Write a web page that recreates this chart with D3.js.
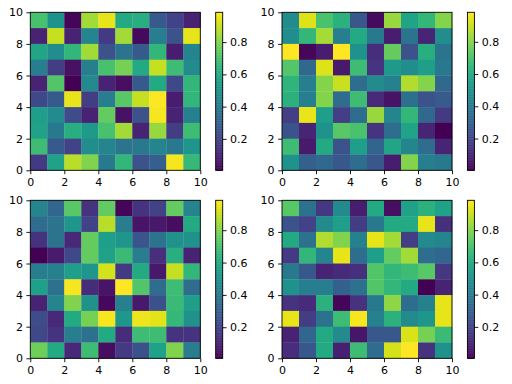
<!DOCTYPE html>
<meta charset="utf-8">
<script src="https://d3js.org/d3.v7.min.js"></script>
<style>
  body { margin: 0; background: #fff; }
  text { font-family: "DejaVu Sans", sans-serif; font-size: 11px; fill: #000; }
</style>
<div id="chart"></div>
<script>
  // 10x10 grids, rows listed from the top (y 9..10) down to the bottom (y 0..1)
  var gridA = [
    [0.70, 0.50, 0.02, 0.85, 0.95, 0.60, 0.62, 0.28, 0.20, 0.10],
    [0.10, 0.90, 0.10, 0.45, 0.17, 0.85, 0.03, 0.42, 0.25, 0.95],
    [0.58, 0.48, 0.65, 0.85, 0.25, 0.38, 0.28, 0.65, 0.08, 0.45],
    [0.42, 0.18, 0.05, 0.42, 0.70, 0.78, 0.60, 0.90, 0.68, 0.47],
    [0.10, 0.72, 0.005, 0.47, 0.10, 0.04, 0.28, 0.60, 0.22, 0.65],
    [0.22, 0.28, 0.95, 0.18, 0.42, 0.73, 0.90, 0.985, 0.08, 0.65],
    [0.55, 0.47, 0.23, 0.10, 0.75, 0.05, 0.25, 0.97, 0.10, 0.43],
    [0.57, 0.40, 0.62, 0.53, 0.70, 0.85, 0.10, 0.83, 0.18, 0.68],
    [0.68, 0.28, 0.20, 0.48, 0.45, 0.38, 0.40, 0.45, 0.40, 0.52],
    [0.17, 0.57, 0.88, 0.80, 0.40, 0.65, 0.25, 0.30, 0.97, 0.66]
  ]
  var gridB = [
    [0.47, 0.93, 0.70, 0.63, 0.27, 0.03, 0.83, 0.57, 0.65, 0.80],
    [0.48, 0.65, 0.85, 0.42, 0.60, 0.40, 0.08, 0.38, 0.10, 0.48],
    [0.983, 0.02, 0.08, 0.98, 0.50, 0.13, 0.75, 0.25, 0.62, 0.38],
    [0.72, 0.33, 0.93, 0.07, 0.68, 0.15, 0.53, 0.48, 0.55, 0.40],
    [0.64, 0.42, 0.80, 0.90, 0.35, 0.47, 0.43, 0.87, 0.80, 0.33],
    [0.63, 0.42, 0.80, 0.35, 0.68, 0.12, 0.05, 0.36, 0.25, 0.28],
    [0.18, 0.95, 0.55, 0.18, 0.35, 0.83, 0.45, 0.65, 0.33, 0.17],
    [0.25, 0.10, 0.50, 0.73, 0.70, 0.15, 0.35, 0.57, 0.10, 0.003],
    [0.68, 0.07, 0.60, 0.25, 0.55, 0.32, 0.58, 0.45, 0.35, 0.10],
    [0.50, 0.30, 0.33, 0.27, 0.35, 0.27, 0.08, 0.80, 0.42, 0.40]
  ]
  var gridC = [
    [0.45, 0.33, 0.73, 0.15, 0.75, 0.02, 0.15, 0.20, 0.75, 0.45],
    [0.35, 0.38, 0.52, 0.20, 0.88, 0.42, 0.06, 0.07, 0.04, 0.60],
    [0.15, 0.38, 0.12, 0.75, 0.55, 0.52, 0.26, 0.38, 0.50, 0.50],
    [0.008, 0.08, 0.22, 0.75, 0.57, 0.67, 0.42, 0.14, 0.62, 0.10],
    [0.42, 0.43, 0.55, 0.52, 0.92, 0.17, 0.60, 0.07, 0.90, 0.65],
    [0.56, 0.37, 0.97, 0.13, 0.06, 0.985, 0.72, 0.35, 0.68, 0.35],
    [0.10, 0.45, 0.80, 0.50, 0.03, 0.43, 0.07, 0.25, 0.67, 0.55],
    [0.23, 0.12, 0.60, 0.78, 0.97, 0.53, 0.96, 0.94, 0.66, 0.50],
    [0.22, 0.15, 0.42, 0.37, 0.60, 0.13, 0.68, 0.68, 0.15, 0.15],
    [0.77, 0.60, 0.12, 0.68, 0.04, 0.17, 0.25, 0.57, 0.80, 0.42]
  ]
  var gridD = [
    [0.73, 0.37, 0.16, 0.47, 0.08, 0.60, 0.04, 0.57, 0.63, 0.57],
    [0.25, 0.20, 0.47, 0.55, 0.18, 0.40, 0.60, 0.60, 0.95, 0.14],
    [0.60, 0.37, 0.87, 0.80, 0.43, 0.95, 0.85, 0.18, 0.47, 0.45],
    [0.17, 0.65, 0.45, 0.95, 0.35, 0.55, 0.75, 0.85, 0.35, 0.33],
    [0.40, 0.27, 0.10, 0.12, 0.14, 0.72, 0.65, 0.68, 0.73, 0.16],
    [0.50, 0.42, 0.42, 0.30, 0.37, 0.72, 0.65, 0.60, 0.005, 0.10],
    [0.15, 0.12, 0.63, 0.02, 0.15, 0.40, 0.82, 0.35, 0.43, 0.95],
    [0.95, 0.18, 0.37, 0.68, 0.97, 0.43, 0.63, 0.47, 0.52, 0.95],
    [0.10, 0.33, 0.60, 0.47, 0.06, 0.27, 0.27, 0.93, 0.78, 0.67],
    [0.13, 0.27, 0.60, 0.09, 0.68, 0.35, 0.92, 0.985, 0.15, 0.50]
  ]

  var axisTicks = [0, 2, 4, 6, 8, 10]
  var barTicks = [0.2, 0.4, 0.6, 0.8]

  var width = 512, height = 384
  var pw = 170, ph = 158

  var svg = d3.select("#chart").append("svg")
    .attr("width", width)
    .attr("height", height)

  var panels = [
    { data: gridA, left: 30.3, top: 12.3 },
    { data: gridB, left: 282, top: 12.3 },
    { data: gridC, left: 30.3, top: 200.3 },
    { data: gridD, left: 282, top: 200.3 }
  ]

  panels.forEach(function(p) {
    var x = d3.scaleLinear().domain([0, 10]).range([0, pw])
    var y = d3.scaleLinear().domain([0, 10]).range([ph, 0])
    var flat = d3.merge(p.data)
    var ext = d3.extent(flat)
    var color = d3.scaleSequential(d3.interpolateViridis).domain(ext)

    var cells = []
    p.data.forEach(function(row, i) {
      row.forEach(function(v, j) { cells.push({ col: j, row: 9 - i, v: v }) })
    })

    var g = svg.append("g").attr("transform", "translate(" + p.left + "," + p.top + ")")

    g.selectAll("rect.cell")
      .data(cells)
      .enter()
      .append("rect")
        .attr("class", "cell")
        .attr("x", function(d) { return x(d.col) })
        .attr("y", function(d) { return y(d.row + 1) })
        .attr("width", function(d) { return x(d.col + 1) - x(d.col) + 0.3 })
        .attr("height", function(d) { return y(d.row) - y(d.row + 1) + 0.3 })
        .style("fill", function(d) { return color(d.v) })

    g.append("g")
      .attr("transform", "translate(0," + ph + ")")
      .call(d3.axisBottom(x).tickValues(axisTicks).tickSize(3.9).tickPadding(3.5).tickFormat(d3.format("d")))
    g.append("g")
      .call(d3.axisLeft(y).tickValues(axisTicks).tickSize(3.9).tickPadding(3.5).tickFormat(d3.format("d")))

    g.append("rect")
      .attr("width", pw).attr("height", ph)
      .style("fill", "none").style("stroke", "#000").style("stroke-width", 0.9)

    // colorbar
    var cb = g.append("g").attr("transform", "translate(185.4,0)")
    var cy = d3.scaleLinear().domain(ext).range([ph, 0])
    var steps = d3.range(256).map(function(k) { return ext[0] + (ext[1] - ext[0]) * k / 256 })
    var dv = (ext[1] - ext[0]) / 256
    cb.selectAll("rect.step")
      .data(steps)
      .enter()
      .append("rect")
        .attr("class", "step")
        .attr("x", 0)
        .attr("width", 7)
        .attr("y", function(d) { return cy(d + dv) })
        .attr("height", function(d) { return cy(d) - cy(d + dv) + 0.4 })
        .style("fill", function(d) { return color(d + dv / 2) })
    cb.append("rect")
      .attr("width", 7).attr("height", ph)
      .style("fill", "none").style("stroke", "#000").style("stroke-width", 0.9)
    cb.append("g")
      .attr("transform", "translate(7,0)")
      .call(d3.axisRight(cy).tickValues(barTicks).tickSize(3.9).tickPadding(3.5).tickFormat(d3.format(".1f")))
  })

  svg.selectAll(".domain").remove()
  svg.selectAll(".tick line").style("stroke", "#000").style("stroke-width", 0.9)
  svg.selectAll(".tick text").style("font-family", "DejaVu Sans").style("font-size", "11px").style("fill", "#000")
</script>
